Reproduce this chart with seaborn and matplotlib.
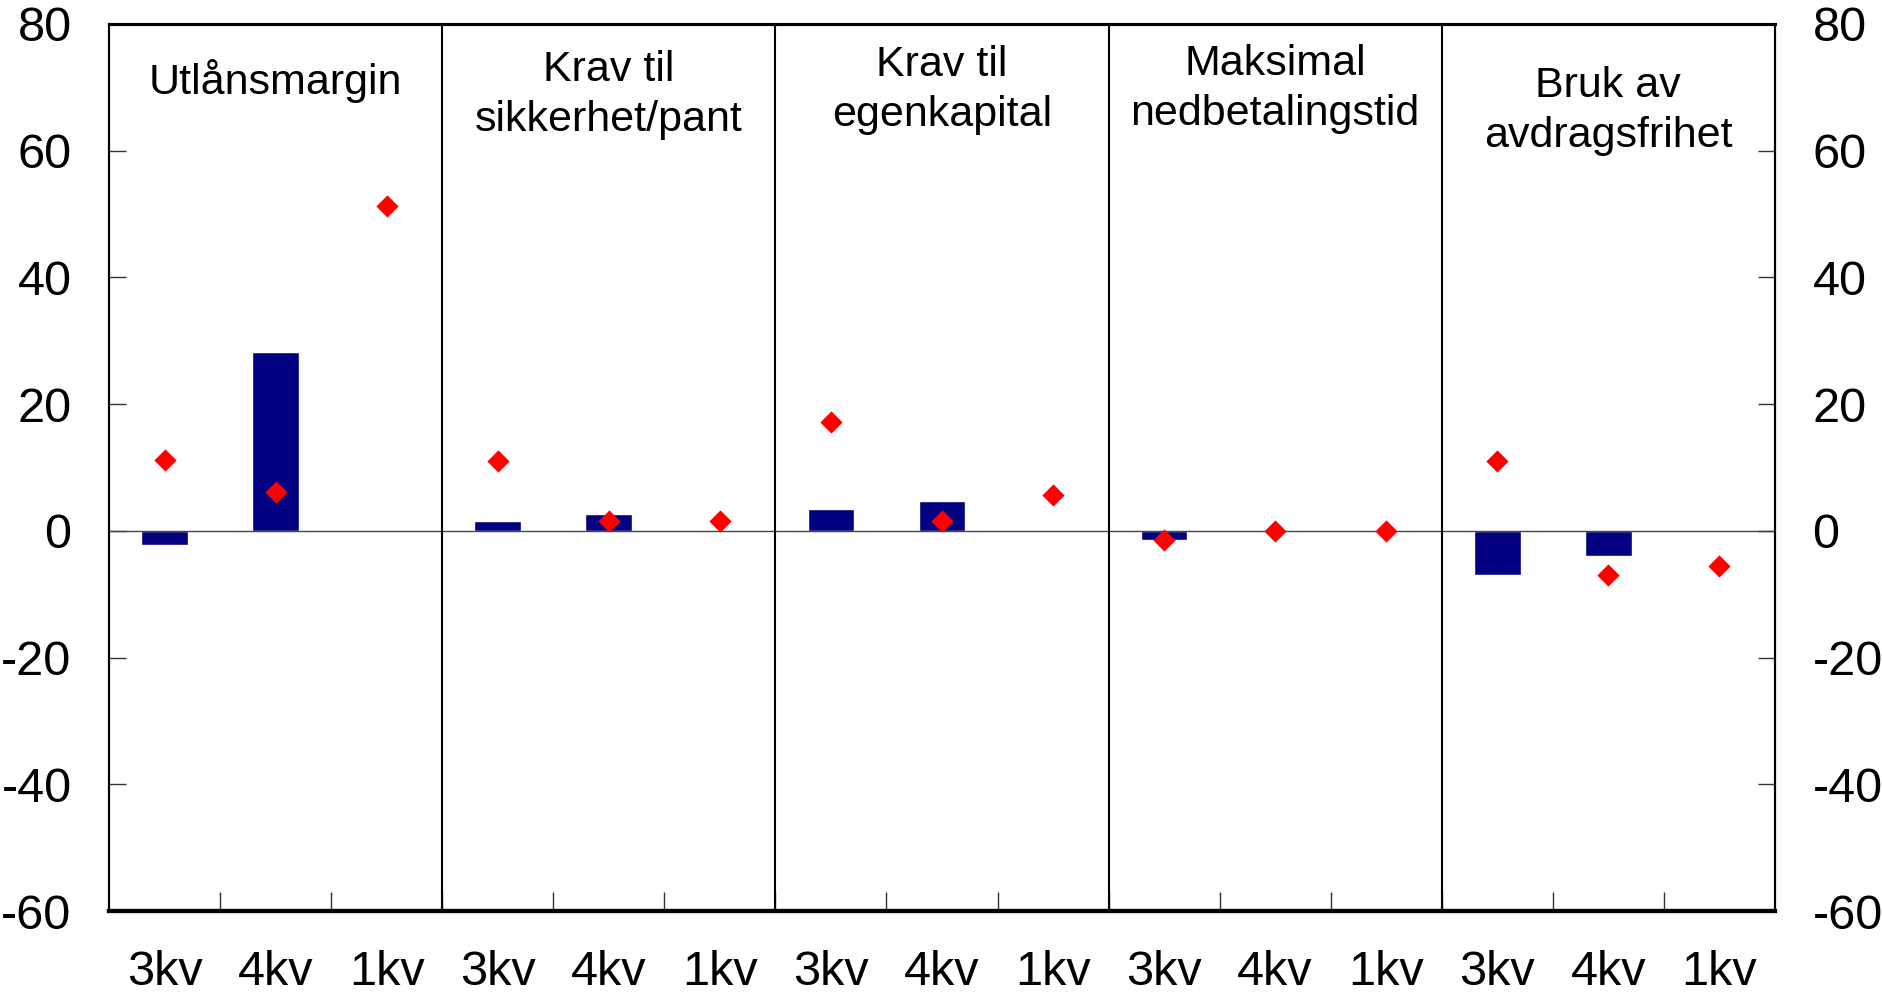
import numpy as np
import pandas as pd
import matplotlib
matplotlib.use("Agg")
import matplotlib.pyplot as plt
import seaborn as sns

# Data
panels = ["Utlånsmargin", "Krav til\nsikkerhet/pant", "Krav til\negenkapital",
          "Maksimal\nnedbetalingstid", "Bruk av\navdragsfrihet"]
quarters = ["3kv", "4kv", "1kv"]
bars = [-2.3, 28.2, np.nan,
        1.5, 2.7, np.nan,
        3.4, 4.7, np.nan,
        -1.5, np.nan, np.nan,
        -7.0, -4.0, np.nan]
diamonds = [11.2, 6.2, 51.3,
            11.0, 1.5, 1.5,
            17.2, 1.5, 5.7,
            -1.5, 0.0, 0.0,
            11.0, -7.0, -5.5]
yticks = [-60, -40, -20, 0, 20, 40, 60, 80]

keys = [f"{p} {q}" for p in panels for q in quarters]
df = pd.DataFrame({"key": keys, "bar": bars, "diamond": diamonds})

sns.set_theme(style="white")
plt.rcParams["font.family"] = ["Liberation Sans", "DejaVu Sans"]
plt.rcParams["axes.unicode_minus"] = False
plt.rcParams["text.color"] = "black"
plt.rcParams["xtick.color"] = "black"
plt.rcParams["ytick.color"] = "black"

fig = plt.figure(figsize=(18.83, 9.94), dpi=100)
ax = fig.add_axes([0.0579, 0.0835, 0.8847, 0.8924])

diamond = [(0, 1), (1, 0), (0, -1), (-1, 0), (0, 1)]
sns.barplot(data=df, x="key", y="bar", order=keys, color="#000080",
            width=0.42, saturation=1, ax=ax, zorder=2)
sns.stripplot(data=df, x="key", y="diamond", order=keys, color="#ff0000",
              marker=diamond, size=16, jitter=False, linewidth=0, ax=ax, zorder=4)

ax.set_xlim(-0.5, len(keys) - 0.5)
ax.set_ylim(-60, 80)
ax.axhline(0, color="#444444", lw=1.0, zorder=3)
for b in [2.5, 5.5, 8.5, 11.5]:
    ax.axvline(b, color="black", lw=1.5, zorder=3)

# panel titles
title_y = [71.0, 68.8, 69.6, 69.8, 66.3]
for i, (p, ty) in enumerate(zip(panels, title_y)):
    ax.text(3 * i + 1, ty, p, ha="center", va="center", fontsize=31,
            linespacing=1.32, color="black")

ax.set_xticks(range(len(keys)))
ax.set_xticklabels(quarters * len(panels), fontsize=35)
ax.set_xticks(np.arange(0.5, len(keys) - 1, 1), minor=True)
ax.tick_params(axis="x", which="major", length=0, pad=28)
ax.tick_params(axis="x", which="minor", direction="in", length=14,
               width=1, color="#333333", bottom=True)
ax.set_yticks(yticks)
ax.set_yticklabels([str(t) for t in yticks], fontsize=35)
ax.tick_params(axis="y", direction="in", length=12, width=1,
               color="#333333", pad=27, left=True)
ax.set_xlabel("")
ax.set_ylabel("")

ax2 = ax.twinx()
ax2.set_ylim(-60, 80)
ax2.set_yticks(yticks)
ax2.set_yticklabels([str(t) for t in yticks], fontsize=35)
ax2.tick_params(axis="y", direction="in", length=12, width=1,
                color="#333333", pad=27, right=True)
ax2.grid(False)

for a in (ax, ax2):
    for s in a.spines.values():
        s.set_color("black")
        s.set_linewidth(1.5)
    a.spines["bottom"].set_linewidth(3)
    a.spines["top"].set_linewidth(2.2)

fig.savefig("out.png", dpi=100)
